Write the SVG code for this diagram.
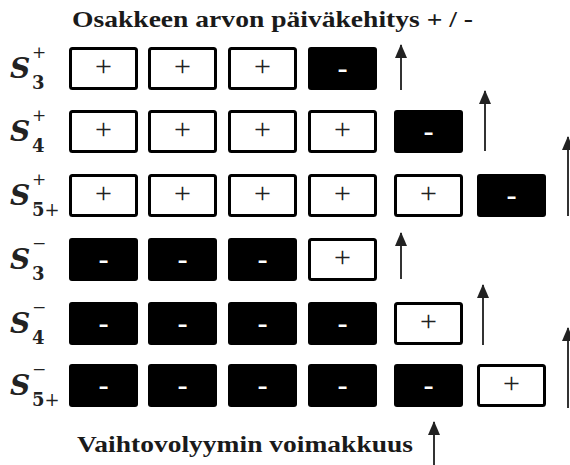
<svg xmlns="http://www.w3.org/2000/svg" width="570" height="465" viewBox="0 0 570 465">
<style>
.t{font-family:"Liberation Serif",serif;font-weight:bold;font-size:23px;fill:#1a1a1a}
.w{fill:#fff;stroke:#000;stroke-width:3}
.b{fill:#000}
.p{font-family:"Liberation Serif",serif;font-size:30px;fill:#222;text-anchor:middle}
.m{font-family:"Liberation Sans",sans-serif;font-size:32px;fill:#fff;text-anchor:middle}
.S{font-family:"DejaVu Serif",serif;font-weight:bold;font-style:italic;font-size:28px;fill:#222}
.sup{font-family:"DejaVu Serif",serif;font-size:17px;fill:#222}
.sub{font-family:"DejaVu Serif",serif;font-weight:bold;font-size:18px;fill:#222}
.a{stroke:#333;stroke-width:2;fill:none}
</style>
<defs>
<marker id="ah" markerUnits="userSpaceOnUse" markerWidth="14" markerHeight="12" refX="13" refY="6" orient="auto" viewBox="0 0 14 12">
<path d="M0 0 L14 6 L0 12 Z" fill="#222"/>
</marker>
</defs>
<rect width="570" height="465" fill="#fff"/>
<text class="t" x="72" y="27" textLength="401" lengthAdjust="spacingAndGlyphs">Osakkeen arvon päiväkehitys + / -</text>
<text class="t" x="77" y="452" textLength="336" lengthAdjust="spacingAndGlyphs">Vaihtovolyymin voimakkuus</text>

<g id="labels">
<g id="l1"><text class="S" x="10" y="78">S</text><text class="sup" x="32" y="58">+</text><text class="sub" x="32" y="89">3</text></g>
<g id="l2"><text class="S" x="10" y="141">S</text><text class="sup" x="32" y="121">+</text><text class="sub" x="32" y="152">4</text></g>
<g id="l3"><text class="S" x="10" y="205">S</text><text class="sup" x="32" y="185">+</text><text class="sub" x="32" y="216">5<tspan font-weight="normal">+</tspan></text></g>
<g id="l4"><text class="S" x="10" y="269">S</text><text class="sup" x="32" y="249">−</text><text class="sub" x="32" y="280">3</text></g>
<g id="l5"><text class="S" x="10" y="333">S</text><text class="sup" x="32" y="313">−</text><text class="sub" x="32" y="344">4</text></g>
<g id="l6"><text class="S" x="10" y="395">S</text><text class="sup" x="32" y="375">−</text><text class="sub" x="32" y="406">5<tspan font-weight="normal">+</tspan></text></g>
</g>

<g id="row1">
<rect class="w" x="70.5" y="48.5" width="66" height="40" rx="2"/><text class="p" x="103.5" y="76">+</text>
<rect class="w" x="149.5" y="48.5" width="66" height="40" rx="2"/><text class="p" x="182.5" y="76">+</text>
<rect class="w" x="229.5" y="48.5" width="66" height="40" rx="2"/><text class="p" x="262.5" y="76">+</text>
<rect class="b" x="308" y="47" width="69" height="43" rx="3"/><text class="m" x="342.5" y="78.5">-</text>
</g>
<g id="row2">
<rect class="w" x="70.5" y="111.5" width="66" height="40" rx="2"/><text class="p" x="103.5" y="139">+</text>
<rect class="w" x="149.5" y="111.5" width="66" height="40" rx="2"/><text class="p" x="182.5" y="139">+</text>
<rect class="w" x="229.5" y="111.5" width="66" height="40" rx="2"/><text class="p" x="262.5" y="139">+</text>
<rect class="w" x="309.5" y="111.5" width="66" height="40" rx="2"/><text class="p" x="342.5" y="139">+</text>
<rect class="b" x="394" y="110" width="69" height="43" rx="3"/><text class="m" x="428.5" y="141.5">-</text>
</g>
<g id="row3">
<rect class="w" x="70.5" y="175.5" width="66" height="40" rx="2"/><text class="p" x="103.5" y="203">+</text>
<rect class="w" x="149.5" y="175.5" width="66" height="40" rx="2"/><text class="p" x="182.5" y="203">+</text>
<rect class="w" x="229.5" y="175.5" width="66" height="40" rx="2"/><text class="p" x="262.5" y="203">+</text>
<rect class="w" x="309.5" y="175.5" width="66" height="40" rx="2"/><text class="p" x="342.5" y="203">+</text>
<rect class="w" x="395.5" y="175.5" width="66" height="40" rx="2"/><text class="p" x="428.5" y="203">+</text>
<rect class="b" x="477" y="174" width="69" height="43" rx="3"/><text class="m" x="511.5" y="205.5">-</text>
</g>
<g id="row4">
<rect class="b" x="69" y="238" width="69" height="43" rx="3"/><text class="m" x="103.5" y="269.5">-</text>
<rect class="b" x="148" y="238" width="69" height="43" rx="3"/><text class="m" x="182.5" y="269.5">-</text>
<rect class="b" x="228" y="238" width="69" height="43" rx="3"/><text class="m" x="262.5" y="269.5">-</text>
<rect class="w" x="309.5" y="239.5" width="66" height="40" rx="2"/><text class="p" x="342.5" y="267">+</text>
</g>
<g id="row5">
<rect class="b" x="69" y="302" width="69" height="43" rx="3"/><text class="m" x="103.5" y="333.5">-</text>
<rect class="b" x="148" y="302" width="69" height="43" rx="3"/><text class="m" x="182.5" y="333.5">-</text>
<rect class="b" x="228" y="302" width="69" height="43" rx="3"/><text class="m" x="262.5" y="333.5">-</text>
<rect class="b" x="308" y="302" width="69" height="43" rx="3"/><text class="m" x="342.5" y="333.5">-</text>
<rect class="w" x="395.5" y="303.5" width="66" height="40" rx="2"/><text class="p" x="428.5" y="331">+</text>
</g>
<g id="row6">
<rect class="b" x="69" y="364" width="69" height="43" rx="3"/><text class="m" x="103.5" y="395.5">-</text>
<rect class="b" x="148" y="364" width="69" height="43" rx="3"/><text class="m" x="182.5" y="395.5">-</text>
<rect class="b" x="228" y="364" width="69" height="43" rx="3"/><text class="m" x="262.5" y="395.5">-</text>
<rect class="b" x="308" y="364" width="69" height="43" rx="3"/><text class="m" x="342.5" y="395.5">-</text>
<rect class="b" x="394" y="364" width="69" height="43" rx="3"/><text class="m" x="428.5" y="395.5">-</text>
<rect class="w" x="478.5" y="365.5" width="66" height="40" rx="2"/><text class="p" x="511.5" y="393">+</text>
</g>

<g id="connectors">
<line class="a" x1="401" y1="90" x2="401" y2="45" marker-end="url(#ah)"/>
<line class="a" x1="485" y1="151" x2="485" y2="91" marker-end="url(#ah)"/>
<line class="a" x1="568" y1="216" x2="568" y2="137" marker-end="url(#ah)"/>
<line class="a" x1="401" y1="279" x2="401" y2="233" marker-end="url(#ah)"/>
<line class="a" x1="483" y1="345" x2="483" y2="285" marker-end="url(#ah)"/>
<line class="a" x1="568" y1="408" x2="568" y2="328" marker-end="url(#ah)"/>
<line class="a" x1="434" y1="465" x2="434" y2="422" marker-end="url(#ah)"/>
</g>
</svg>
